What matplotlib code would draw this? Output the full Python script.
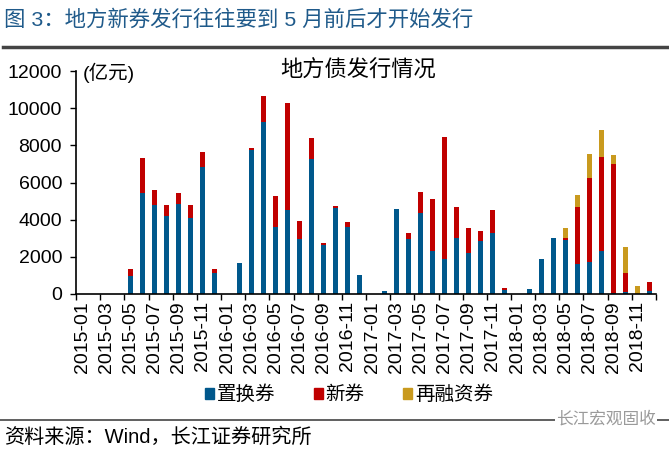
import numpy as np
import matplotlib
matplotlib.use("Agg")
import matplotlib.pyplot as plt
from matplotlib.lines import Line2D
from matplotlib.patches import Patch

plt.rcParams['font.family'] = ['Liberation Sans', 'Noto Sans CJK SC']

# months 2015-01 .. 2018-12
months = ["%d-%02d" % (y, m) for y in range(2015, 2019) for m in range(1, 13)]

# 置换券 (亿元)
swap = [0, 0, 0, 0, 950, 5460, 4780, 4190, 4830, 4110, 6830, 1110,
        0, 1660, 7730, 9280, 3580, 4510, 2950, 7250, 2610, 4630, 3600, 1020,
        0, 140, 4580, 2970, 4370, 2310, 1880, 2990, 2200, 2830, 3280, 230,
        0, 290, 1900, 3000, 2900, 1610, 1700, 2310, 40, 120, 0, 160]
# 新券
new = [0, 0, 0, 0, 410, 1870, 820, 620, 610, 700, 790, 230,
       0, 0, 120, 1350, 1700, 5780, 970, 1140, 130, 130, 250, 0,
       0, 0, 0, 290, 1120, 2810, 6550, 1700, 1340, 550, 1250, 90,
       0, 0, 0, 0, 120, 3090, 4560, 5080, 6970, 1010, 0, 470]
# 再融资券
refi = [0] * 40 + [520, 630, 1290, 1430, 470, 1400, 430, 0]

c_blue = '#00588C'
c_red = '#C00000'
c_gold = '#C99A1E'

fig = plt.figure(figsize=(6.69, 4.49), dpi=100)
ax = fig.add_axes([76 / 669, 1 - 294 / 449, 580 / 669, 223 / 449])

x = np.arange(len(months))
swap = np.array(swap)
new = np.array(new)
refi = np.array(refi)
w = 0.42
ax.bar(x, swap, w, color=c_blue)
ax.bar(x, new, w, bottom=swap, color=c_red)
ax.bar(x, refi, w, bottom=swap + new, color=c_gold)

ax.set_xlim(-0.5, len(months) - 0.5)
ax.set_ylim(0, 12000)
ax.set_yticks(np.arange(0, 12001, 2000))
ax.tick_params(axis='y', direction='out', length=4, width=1, labelsize=14, pad=6)

ax.set_xticks(x[::2])
ax.set_xticklabels(months[::2], rotation=90)
ax.set_xticks(np.arange(-0.5, len(months), 2), minor=True)
ax.tick_params(axis='x', which='major', length=0, labelsize=14, pad=5)
ax.tick_params(axis='x', which='minor', direction='out', length=4, width=1)

for s in ['top', 'right']:
    ax.spines[s].set_visible(False)
ax.spines['left'].set_linewidth(1.2)
ax.spines['bottom'].set_linewidth(1.2)

fig.text(358 / 669, 1 - 71 / 449, '地方债发行情况', fontsize=16, ha='center', va='center')
fig.text(83 / 669, 1 - 73 / 449, '(亿元)', fontsize=14, ha='left', va='center')

fig.text(4 / 669, 1 - 19 / 449, '图 3：地方新券发行往往要到 5 月前后才开始发行',
         fontsize=15.4, color='#1F5A8A', ha='left', va='center')
fig.add_artist(Line2D([0.005, 1], [1 - 47 / 449] * 2, lw=2.5, color='#444444'))

handles = [Patch(color=c_blue, label='置换券'),
           Patch(color=c_red, label='新券'),
           Patch(color=c_gold, label='再融资券')]
fig.legend(handles=handles, loc='center', bbox_to_anchor=(349 / 669, 1 - 395 / 449),
           ncol=3, frameon=False, fontsize=14, handlelength=0.45, handleheight=0.45,
           handletextpad=0.15, columnspacing=2.0)

fig.add_artist(Line2D([0, 1], [1 - 420 / 449] * 2, lw=1.2, color='#444444'))
fig.text(606 / 669, 1 - 419 / 449, '长江宏观固收', fontsize=12, color='#9a9a9a',
         ha='center', va='center',
         bbox=dict(facecolor='white', edgecolor='none', pad=1))
fig.text(4 / 669, 1 - 437 / 449, '资料来源：Wind，长江证券研究所', fontsize=14.5,
         ha='left', va='center')

fig.savefig('out.png', dpi=100)
